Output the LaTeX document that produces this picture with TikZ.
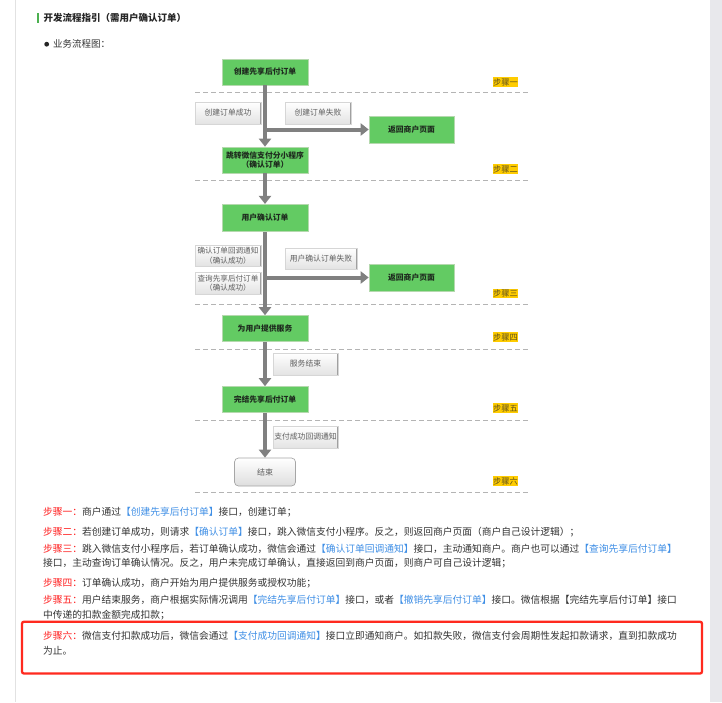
\documentclass[tikz,border=0pt]{standalone}
\usepackage{fontspec}
\setmainfont{Noto Sans CJK SC}
\usetikzlibrary{arrows.meta}
\definecolor{boxgreen}{HTML}{63CB63}
\definecolor{boxedge}{HTML}{B5D9AE}
\definecolor{boxtext}{HTML}{1E2A1E}
\definecolor{arrowgray}{HTML}{808080}
\definecolor{dashgray}{HTML}{B4B4B4}
\definecolor{lbltext}{HTML}{5E5E5E}
\definecolor{lbledge}{HTML}{D6D6D6}
\definecolor{lblside}{HTML}{A0A0A0}
\definecolor{stepyellow}{HTML}{FFCC00}
\definecolor{steptext}{HTML}{5E5020}
\definecolor{bodytext}{HTML}{333333}
\definecolor{stepred}{HTML}{FF1F1F}
\definecolor{linkblue}{HTML}{3F8FE6}
\definecolor{framered}{HTML}{FF2A1F}
\definecolor{pageline}{HTML}{E2E2E2}
\definecolor{sidegray}{HTML}{E8E8EC}
\definecolor{titlegreen}{HTML}{4CB050}
\tikzset{
  greenbox/.style={draw=boxedge, line width=0.6pt, fill=boxgreen, minimum width=86pt, minimum height=26pt, inner sep=0pt, align=center, text=boxtext, font=\fontsize{7.8}{9.5}\selectfont\bfseries},
  lblbox/.style={draw=lbledge, line width=0.6pt, top color=white, bottom color=black!11, inner sep=0pt, align=center, text=lbltext, font=\fontsize{7.8}{9.5}\selectfont,
    path picture={\draw[lblside, line width=1pt] ([xshift=0.5pt]path picture bounding box.north west) -- ([xshift=0.5pt]path picture bounding box.south west);
                  \draw[lblside, line width=1pt] ([xshift=-0.5pt]path picture bounding box.north east) -- ([xshift=-0.5pt]path picture bounding box.south east);}},
  endbox/.style={draw=black!35, line width=0.7pt, rounded corners=4pt, top color=white, bottom color=black!13, minimum width=61pt, minimum height=28pt, inner sep=0pt, text=lbltext, font=\fontsize{8}{9.5}\selectfont},
  steplbl/.style={fill=stepyellow, text=steptext, inner sep=0pt, minimum width=25pt, minimum height=9.5pt, font=\fontsize{8.2}{9}\selectfont},
  flow/.style={draw=arrowgray, line width=4pt, -{Triangle[width=12pt,length=8pt]}},
  sepline/.style={draw=dashgray, line width=1pt, dash pattern=on 5pt off 3pt},
  bodyline/.style={anchor=west, inner sep=0pt, text=bodytext, font=\fontsize{9.75}{12}\selectfont},
}
\newcommand{\stp}[1]{\textcolor{stepred}{#1}}
\newcommand{\lnk}[1]{\textcolor{linkblue}{#1}}
\begin{document}
\begin{tikzpicture}[x=1pt,y=-1pt]
\useasboundingbox (0,0) rectangle (722,702);
\fill[white] (0,0) rectangle (722,702);
% page frame
\fill[sidegray] (710,0) rectangle (722,702);
\draw[pageline, line width=1pt] (15,0) -- (15,702);
% title
\fill[titlegreen] (37,13) rectangle (39.3,22.7);
\node[anchor=west, inner sep=0pt, text=black!85, font=\fontsize{9.5}{11}\selectfont\bfseries] (title) at (43.5,17.8) {开发流程指引（需用户确认订单）};
\fill[black!85] (46.7,44.2) circle (2.4pt);
\node[anchor=west, inner sep=0pt, text=bodytext, font=\fontsize{9.5}{11}\selectfont] (sub) at (53,44.2) {业务流程图：};
% separators
\foreach \yy in {92.3,180,304.3,349,420,492.3}{\draw[sepline] (195,\yy) -- (530,\yy);}
% step labels
\node[steplbl] (s1) at (505.5,82) {步骤一};
\node[steplbl] (s2) at (505.5,169) {步骤二};
\node[steplbl] (s3) at (505.5,293.5) {步骤三};
\node[steplbl] (s4) at (505.5,337) {步骤四};
\node[steplbl] (s5) at (505.5,408) {步骤五};
\node[steplbl] (s6) at (505.5,481) {步骤六};
% main boxes
\node[greenbox] (b1) at (265,72) {创建先享后付订单};
\node[greenbox] (b2) at (265,160) {跳转微信支付分小程序\\（确认订单）};
\node[greenbox, minimum height=27.5pt] (b3) at (265,218) {用户确认订单};
\node[greenbox] (b4) at (265,328.5) {为用户提供服务};
\node[greenbox] (b5) at (265,399.5) {完结先享后付订单};
\node[endbox] (e) at (265,472) {结束};
\node[greenbox, minimum width=85pt, minimum height=27pt] (r1) at (411.5,129.5) {返回商户页面};
\node[greenbox, minimum width=85pt, minimum height=27pt] (r2) at (411.5,277.5) {返回商户页面};
% labels
\node[lblbox, minimum width=66pt, minimum height=22pt] (l1) at (228,113) {创建订单成功};
\node[lblbox, minimum width=66pt, minimum height=22pt] (l2) at (318,113) {创建订单失败};
\node[lblbox, minimum width=66pt, minimum height=21pt, font=\fontsize{7.6}{9.5}\selectfont] (l3) at (228,255.5) {确认订单回调通知\\（确认成功）};
\node[lblbox, minimum width=66pt, minimum height=22pt, font=\fontsize{7.6}{9.5}\selectfont] (l4) at (228,283) {查询先享后付订单\\（确认成功）};
\node[lblbox, minimum width=72pt, minimum height=21pt] (l5) at (321,258.5) {用户确认订单失败};
\node[lblbox, minimum width=65pt, minimum height=22pt] (l6) at (305.5,364) {服务结束};
\node[lblbox, minimum width=65pt, minimum height=22pt] (l7) at (305.5,437) {支付成功回调通知};
% connectors
\coordinate (j1) at (265,129.5);
\coordinate (j2) at (265,277.5);
\draw[flow] (b1) -- (b2);
\draw[flow] (j1) -- (r1);
\draw[flow] (b2) -- (b3);
\draw[flow] (b3) -- (b4);
\draw[flow] (j2) -- (r2);
\draw[flow] (b4) -- (b5);
\draw[flow] (b5) -- (e);
% body text
\node[bodyline] (t1) at (43,511.7) {\stp{步骤一：}商户通过\lnk{【创建先享后付订单】}接口，创建订单；};
\node[bodyline] (t2) at (43,531.7) {\stp{步骤二：}若创建订单成功，则请求\lnk{【确认订单】}接口，跳入微信支付小程序。反之，则返回商户页面（商户自己设计逻辑）；};
\node[bodyline] (t3) at (43,549) {\stp{步骤三：}跳入微信支付小程序后，若订单确认成功，微信会通过\lnk{【确认订单回调通知】}接口，主动通知商户。商户也可以通过\lnk{【查询先享后付订单】}};
\node[bodyline] (t4) at (43,563.5) {接口，主动查询订单确认情况。反之，用户未完成订单确认，直接返回到商户页面，则商户可自己设计逻辑；};
\node[bodyline] (t5) at (43,583.5) {\stp{步骤四：}订单确认成功，商户开始为用户提供服务或授权功能；};
\node[bodyline] (t6) at (43,600) {\stp{步骤五：}用户结束服务，商户根据实际情况调用\lnk{【完结先享后付订单】}接口，或者\lnk{【撤销先享后付订单】}接口。微信根据【完结先享后付订单】接口};
\node[bodyline] (t7) at (43,615.5) {中传递的扣款金额完成扣款；};
\node[bodyline] (t8) at (43,635.7) {\stp{步骤六：}微信支付扣款成功后，微信会通过\lnk{【支付成功回调通知】}接口立即通知商户。如扣款失败，微信支付会周期性发起扣款请求，直到扣款成功};
\node[bodyline] (t9) at (43,650.5) {为止。};
% red frame
\draw[framered, line width=2.3pt, rounded corners=2pt] (22,621.7) rectangle (702,673.5);
\end{tikzpicture}
\end{document}
